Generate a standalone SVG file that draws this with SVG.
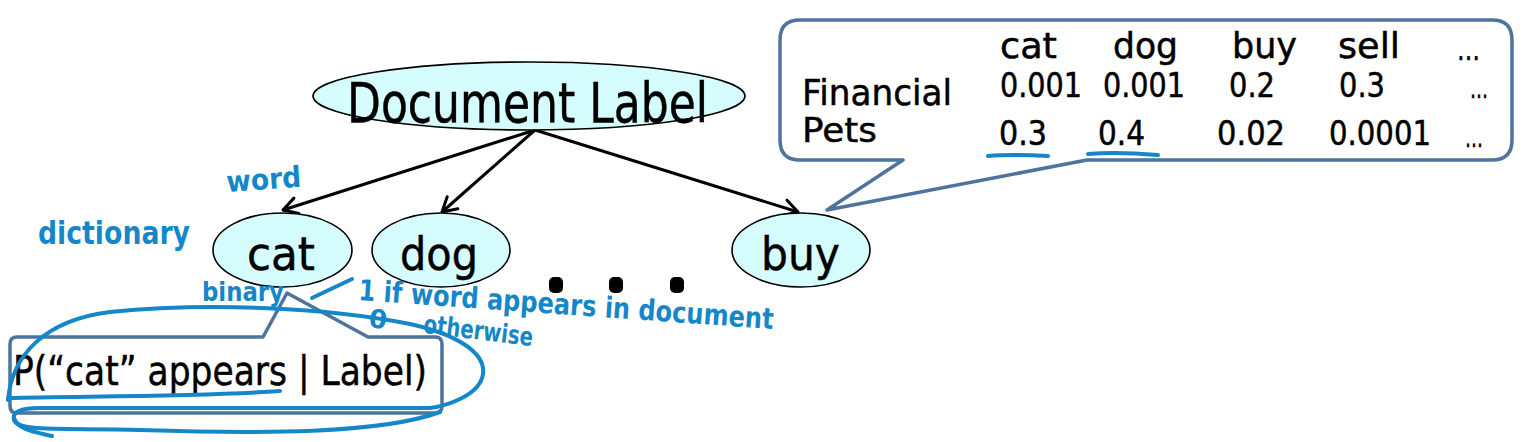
<svg xmlns="http://www.w3.org/2000/svg" width="1524" height="442" viewBox="0 0 1524 442">
<style>
.node{fill:#d6fdfd;stroke:#000;stroke-width:1.6}
.t{font-family:"DejaVu Sans","Liberation Sans",sans-serif;fill:#000;stroke:#000;stroke-width:0.5}
.call{fill:#fff;stroke:#4e739c;stroke-width:3.5;stroke-linejoin:round}
.edge{stroke:#000;stroke-width:3;fill:none}
.ink{stroke:#1587c9;stroke-width:4;fill:none;stroke-linecap:round;stroke-linejoin:round}
.hw{font-family:"DejaVu Sans","Liberation Sans",sans-serif;fill:#1587c9;font-weight:bold}
</style>
<defs>
<marker id="arr" viewBox="-16 -10 18 20" markerWidth="18" markerHeight="20" refX="0" refY="0" markerUnits="userSpaceOnUse" orient="auto">
<path d="M-14,-8 L0,0 L-14,8" fill="none" stroke="#000" stroke-width="3" stroke-linecap="round" stroke-linejoin="round"/>
</marker>
</defs>
<rect width="1524" height="442" fill="#fff"/>

<g id="table-callout">
<path class="call" d="M800,20 L1492,20 Q1512,20 1512,40 L1512,140 Q1512,160 1492,160 L1087,160 L827,210 L903,160 L800,160 Q780,160 780,140 L780,40 Q780,20 800,20 Z"/>
<text class="t" font-size="36" x="1000" y="58" textLength="57" lengthAdjust="spacingAndGlyphs">cat</text>
<text class="t" font-size="36" x="1113" y="58" textLength="65" lengthAdjust="spacingAndGlyphs">dog</text>
<text class="t" font-size="36" x="1232" y="58" textLength="65" lengthAdjust="spacingAndGlyphs">buy</text>
<text class="t" font-size="36" x="1338" y="58" textLength="62" lengthAdjust="spacingAndGlyphs">sell</text>
<text class="t" font-size="30" x="1457" y="60" textLength="23" lengthAdjust="spacingAndGlyphs">…</text>
<text class="t" font-size="35" x="802" y="105" textLength="150" lengthAdjust="spacingAndGlyphs">Financial</text>
<text class="t" font-size="33" x="1000" y="97" textLength="82" lengthAdjust="spacingAndGlyphs">0.001</text>
<text class="t" font-size="33" x="1103" y="97" textLength="82" lengthAdjust="spacingAndGlyphs">0.001</text>
<text class="t" font-size="33" x="1229" y="97" textLength="46" lengthAdjust="spacingAndGlyphs">0.2</text>
<text class="t" font-size="33" x="1339" y="97" textLength="46" lengthAdjust="spacingAndGlyphs">0.3</text>
<text class="t" font-size="26" x="1470" y="98" textLength="18" lengthAdjust="spacingAndGlyphs">…</text>
<text class="t" font-size="34" x="802" y="142" textLength="75" lengthAdjust="spacingAndGlyphs">Pets</text>
<text class="t" font-size="33" x="999" y="145" textLength="48" lengthAdjust="spacingAndGlyphs">0.3</text>
<text class="t" font-size="33" x="1098" y="145" textLength="47" lengthAdjust="spacingAndGlyphs">0.4</text>
<text class="t" font-size="33" x="1217" y="145" textLength="68" lengthAdjust="spacingAndGlyphs">0.02</text>
<text class="t" font-size="33" x="1329" y="145" textLength="102" lengthAdjust="spacingAndGlyphs">0.0001</text>
<text class="t" font-size="26" x="1465" y="147" textLength="18" lengthAdjust="spacingAndGlyphs">…</text>
</g>

<g id="prob-callout">
<path class="call" d="M17,337 L263,337 L287,293 L368,337 L435,337 Q442,337 442,344 L442,406 Q442,413 435,413 L17,413 Q10,413 10,406 L10,344 Q10,337 17,337 Z"/>
<text class="t" font-size="41" x="13" y="385" textLength="414" lengthAdjust="spacingAndGlyphs">P(“cat” appears | Label)</text>
</g>

<g id="connectors">
<line class="edge" x1="535" y1="130" x2="283" y2="210" marker-end="url(#arr)"/>
<line class="edge" x1="535" y1="130" x2="442" y2="212" marker-end="url(#arr)"/>
<line class="edge" x1="535" y1="130" x2="798" y2="212" marker-end="url(#arr)"/>
</g>

<g id="document-label">
<ellipse class="node" cx="529" cy="96" rx="216" ry="34"/>
<text class="t" font-size="55" x="347" y="122" textLength="361" lengthAdjust="spacingAndGlyphs">Document Label</text>
</g>
<g id="node-cat">
<ellipse class="node" cx="282.5" cy="250" rx="69.5" ry="37"/>
<text class="t" font-size="46" x="247" y="270" textLength="68" lengthAdjust="spacingAndGlyphs">cat</text>
</g>
<g id="node-dog">
<ellipse class="node" cx="441" cy="250" rx="69" ry="37"/>
<text class="t" font-size="46" x="400" y="270" textLength="78" lengthAdjust="spacingAndGlyphs">dog</text>
</g>
<g id="node-buy">
<ellipse class="node" cx="801" cy="250" rx="69" ry="37"/>
<text class="t" font-size="46" x="761" y="270" textLength="79" lengthAdjust="spacingAndGlyphs">buy</text>
</g>
<g id="ellipsis">
<rect x="549" y="277" width="14" height="16" rx="5"/>
<rect x="609" y="277" width="14" height="16" rx="5"/>
<rect x="670" y="277" width="14" height="16" rx="5"/>
</g>

<g id="annotations">
<text class="hw" font-size="29" transform="translate(227,192) rotate(-4)" textLength="75" lengthAdjust="spacingAndGlyphs">word</text>
<text class="hw" font-size="32" x="38" y="244" textLength="152" lengthAdjust="spacingAndGlyphs">dictionary</text>
<text class="hw" font-size="27" x="202" y="301" textLength="82" lengthAdjust="spacingAndGlyphs">binary</text>
<path class="ink" d="M312,298 L352,279"/>
<text class="hw" font-size="29" transform="translate(358,300) rotate(4)" textLength="416" lengthAdjust="spacingAndGlyphs">1 if word appears in document</text>
<text class="hw" font-size="26" transform="translate(368,327) rotate(7)"><tspan x="0" y="0">0</tspan><tspan x="55" y="-1" textLength="110" lengthAdjust="spacingAndGlyphs">otherwise</tspan></text>
<path class="ink" d="M988,156 C1010,154 1030,155 1048,156"/>
<path class="ink" d="M1088,154 C1110,152 1135,153 1158,155"/>
<path class="ink" d="M8,398 C80,396 200,397 280,391"/>
<path class="ink" d="M8,400 C12,355 45,320 110,312 C210,302 330,308 410,324 C455,334 486,352 483,374 C480,396 445,406 430,408 L40,408 C20,408 12,412 14,420 C18,432 60,428 140,430 C260,434 380,434 440,412"/>
<path class="ink" d="M14,418 C18,430 35,432 52,436"/>
</g>
</svg>
